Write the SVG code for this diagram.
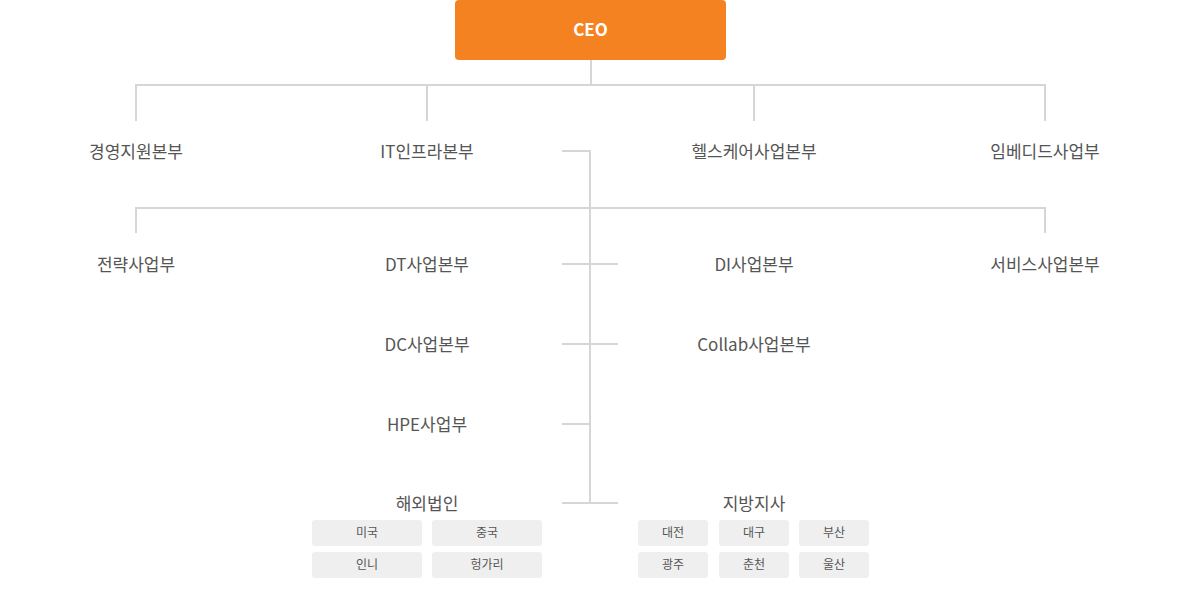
<svg xmlns="http://www.w3.org/2000/svg" width="1180" height="598" viewBox="0 0 1180 598">
<style>
.ln{stroke:#d6d6d6;stroke-width:2;fill:none}
.lb{font-family:"Noto Sans CJK KR","Noto Sans",sans-serif;font-size:17px;fill:#555;text-anchor:middle}
.sb{fill:#efefef}
.st{font-family:"Noto Sans CJK KR","Noto Sans",sans-serif;font-size:12px;fill:#555;text-anchor:middle}
.ceo{font-family:"Noto Sans CJK KR","Noto Sans",sans-serif;font-size:17px;font-weight:bold;fill:#fff;text-anchor:middle}
</style>
<rect width="1180" height="598" fill="#fff"/>
<g id="connectors">
<path class="ln" d="M591 60V85M135 85H1046M136 85V121M427 85V121M754 85V121M1045 85V121"/>
<path class="ln" d="M562 151H590V503M135 208H1046M136 208V233M1045 208V233"/>
<path class="ln" d="M562 264H618M562 344H618M562 424H590M562 503H618"/>
</g>
<g id="ceo"><rect x="455" y="0" width="271" height="60" rx="4" fill="#f58220"/><text class="ceo" x="590.5" y="36">CEO</text></g>
<g id="n1"><text class="lb" x="136" y="158">경영지원본부</text></g>
<g id="n2"><text class="lb" x="427" y="158">IT인프라본부</text></g>
<g id="n3"><text class="lb" x="754" y="158">헬스케어사업본부</text></g>
<g id="n4"><text class="lb" x="1045" y="158">임베디드사업부</text></g>
<g id="n5"><text class="lb" x="136" y="271">전략사업부</text></g>
<g id="n6"><text class="lb" x="427" y="271">DT사업본부</text></g>
<g id="n7"><text class="lb" x="754" y="271">DI사업본부</text></g>
<g id="n8"><text class="lb" x="1045" y="271">서비스사업본부</text></g>
<g id="n9"><text class="lb" x="427" y="351">DC사업본부</text></g>
<g id="n10"><text class="lb" x="754" y="351">Collab사업본부</text></g>
<g id="n11"><text class="lb" x="427" y="431">HPE사업부</text></g>
<g id="n12"><text class="lb" x="427" y="510">해외법인</text>
<rect class="sb" x="312" y="520" width="110" height="26" rx="3"/><text class="st" x="367" y="537">미국</text>
<rect class="sb" x="432" y="520" width="110" height="26" rx="3"/><text class="st" x="487" y="537">중국</text>
<rect class="sb" x="312" y="552" width="110" height="26" rx="3"/><text class="st" x="367" y="569">인니</text>
<rect class="sb" x="432" y="552" width="110" height="26" rx="3"/><text class="st" x="487" y="569">헝가리</text>
</g>
<g id="n13"><text class="lb" x="754" y="510">지방지사</text>
<rect class="sb" x="638" y="520" width="70" height="26" rx="3"/><text class="st" x="673" y="537">대전</text>
<rect class="sb" x="719" y="520" width="70" height="26" rx="3"/><text class="st" x="754" y="537">대구</text>
<rect class="sb" x="799" y="520" width="70" height="26" rx="3"/><text class="st" x="834" y="537">부산</text>
<rect class="sb" x="638" y="552" width="70" height="26" rx="3"/><text class="st" x="673" y="569">광주</text>
<rect class="sb" x="719" y="552" width="70" height="26" rx="3"/><text class="st" x="754" y="569">춘천</text>
<rect class="sb" x="799" y="552" width="70" height="26" rx="3"/><text class="st" x="834" y="569">울산</text>
</g>
</svg>
